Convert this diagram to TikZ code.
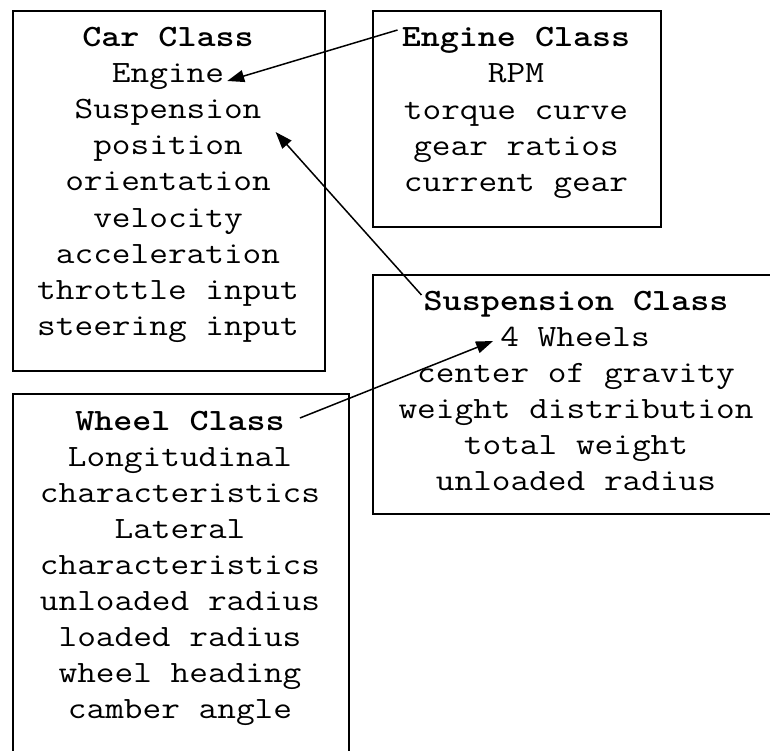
\documentclass[tikz,border=0pt]{standalone}
\usepackage{graphicx}
\usetikzlibrary{arrows.meta}
% typewriter text, widened to Courier-like proportions
\newcommand\widetype[1]{\scalebox{1.17}[1]{#1}}
\begin{document}
\begin{tikzpicture}[x=1pt,y=-1pt,
  classbox/.style={draw=black, line width=2pt, anchor=north west, inner sep=0pt},
  entry/.style={anchor=base, inner sep=0pt, font=\ttfamily\fontsize{31}{36}\selectfont},
  title/.style={entry, font=\ttfamily\bfseries\fontsize{31}{36}\selectfont},
  link/.style={draw=black, line width=1.5pt, -{Triangle[length=17pt,width=12pt]}}]
  \clip (0,0) rectangle (770,751);
  \fill[white] (0,0) rectangle (770,751);

  % class boxes
  \node[classbox, minimum width=312pt, minimum height=360pt] (carbox) at (12,10) {};
  \node[classbox, minimum width=288pt, minimum height=216pt] (enginebox) at (372,10) {};
  \node[classbox, minimum width=410pt, minimum height=239pt] (suspbox) at (372,274) {};
  \node[classbox, minimum width=336pt, minimum height=420pt] (wheelbox) at (12,393) {};

  % Car class
  \node[title] (carT) at (168,47) {\widetype{Car Class}};
  \node[entry] (carEngine) at (168,83) {\widetype{Engine}};
  \node[entry] (carSusp) at (168,119) {\widetype{Suspension}};
  \node[entry] (car3) at (168,155) {\widetype{position}};
  \node[entry] (car4) at (168,191) {\widetype{orientation}};
  \node[entry] (car5) at (168,227) {\widetype{velocity}};
  \node[entry] (car6) at (168,263) {\widetype{acceleration}};
  \node[entry] (car7) at (168,299) {\widetype{throttle input}};
  \node[entry] (car8) at (168,335) {\widetype{steering input}};

  % Engine class
  \node[title] (engT) at (516,47) {\widetype{Engine Class}};
  \node[entry] (eng1) at (516,83) {\widetype{RPM}};
  \node[entry] (eng2) at (516,120) {\widetype{torque curve}};
  \node[entry] (eng3) at (516,156) {\widetype{gear ratios}};
  \node[entry] (eng4) at (516,192) {\widetype{current gear}};

  % Suspension class
  \node[title] (susT) at (576,310) {\widetype{Suspension Class}};
  \node[entry] (susWheels) at (575,346) {\widetype{4 Wheels}};
  \node[entry] (sus2) at (576,382) {\widetype{center of gravity}};
  \node[entry] (sus3) at (576,418) {\widetype{weight distribution}};
  \node[entry] (sus4) at (576,454) {\widetype{total weight}};
  \node[entry] (sus5) at (576,490) {\widetype{unloaded radius}};

  % Wheel class
  \node[title] (whT) at (180,430) {\widetype{Wheel Class}};
  \node[entry] (wh1) at (180,466) {\widetype{Longitudinal}};
  \node[entry] (wh2) at (180,502) {\widetype{characteristics}};
  \node[entry] (wh3) at (180,538) {\widetype{Lateral}};
  \node[entry] (wh4) at (180,574) {\widetype{characteristics}};
  \node[entry] (wh5) at (180,610) {\widetype{unloaded radius}};
  \node[entry] (wh6) at (180,646) {\widetype{loaded radius}};
  \node[entry] (wh7) at (180,682) {\widetype{wheel heading}};
  \node[entry] (wh8) at (180,718) {\widetype{camber angle}};

  % associations
  \draw[link] ([xshift=-4pt,yshift=17pt]engT.base west) -- ([xshift=3pt,yshift=2pt]carEngine.base east);
  \draw[link] ([xshift=-2pt,yshift=15pt]susT.base west) -- ([xshift=14pt,yshift=-13pt]carSusp.base east);
  \draw[link] ([xshift=15pt,yshift=12pt]whT.base east) -- ([xshift=-7pt,yshift=5pt]susWheels.base west);
\end{tikzpicture}
\end{document}
